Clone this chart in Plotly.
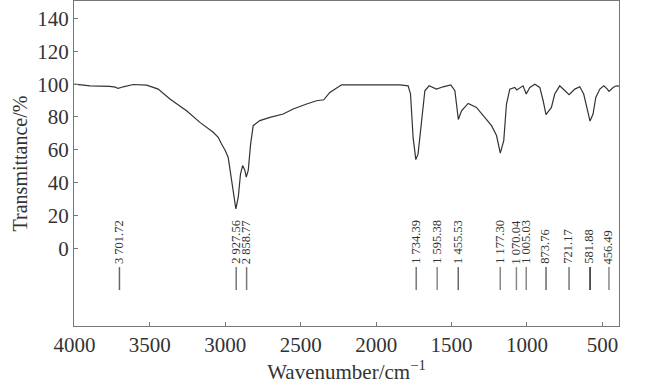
import plotly.graph_objects as go

# Spectrum (wavenumber cm^-1, transmittance %)
wavenumber = [4000, 3897, 3765, 3730, 3710, 3677, 3610, 3521, 3445, 3367, 3257, 3168, 3080,
              3047, 3025, 3003, 2981, 2958, 2936, 2930, 2914, 2899, 2885, 2870, 2861, 2848,
              2832, 2815, 2771, 2704, 2616, 2550, 2461, 2395, 2347, 2307, 2229, 2000, 1841,
              1788, 1772, 1755, 1737, 1722, 1699, 1677, 1649, 1600, 1556, 1505, 1478, 1467,
              1455, 1434, 1390, 1335, 1280, 1235, 1202, 1177, 1154, 1136, 1114, 1081, 1068,
              1048, 1026, 1005, 981, 948, 915, 893, 874, 838, 816, 783, 749, 721, 683, 650,
              624, 595, 582, 562, 544, 517, 491, 467, 456, 429, 407, 390]
transmittance = [100.0, 99.0, 98.6, 98.2, 97.4, 98.4, 99.8, 99.4, 97.0, 91.0, 83.8, 76.7, 70.7,
                 67.6, 63.5, 60.0, 55.5, 41.3, 25.1, 24.0, 31.2, 45.4, 50.4, 47.4, 43.3, 47.4,
                 63.6, 74.7, 77.8, 79.8, 81.8, 84.9, 87.9, 89.9, 90.5, 95.0, 99.6, 99.6, 99.6,
                 99.0, 94.0, 67.6, 54.0, 57.5, 77.8, 96.0, 99.0, 97.0, 98.4, 99.6, 96.0, 85.8,
                 78.5, 83.8, 88.3, 85.8, 79.8, 74.7, 68.7, 58.0, 65.6, 87.9, 97.0, 98.0, 96.5,
                 97.5, 99.0, 94.0, 98.0, 100.0, 98.0, 89.9, 81.5, 85.8, 94.0, 99.0, 96.0, 93.6,
                 97.0, 98.4, 94.0, 83.8, 77.5, 81.8, 91.9, 97.0, 99.0, 97.0, 95.6, 98.0, 99.0, 98.8]

# Peak labels
peak_positions = [3701.72, 2927.56, 2858.77, 1734.39, 1595.38, 1455.53, 1177.30,
                  1070.04, 1005.03, 873.76, 721.17, 581.88, 456.49]
peak_labels = ["3 701.72", "2 927.56", "2 858.77", "1 734.39", "1 595.38", "1 455.53",
               "1 177.30", "1 070.04", "1 005.03", "873.76", "721.17", "581.88", "456.49"]
peak_line_colors = ["#666", "#777", "#777", "#777", "#888", "#666", "#888",
                    "#888", "#888", "#666", "#777", "#222", "#888"]

x_ticks = [4000, 3500, 3000, 2500, 2000, 1500, 1000, 500]
y_ticks = [0, 20, 40, 60, 80, 100, 120, 140]

FONT = "Liberation Serif, Times New Roman, serif"

fig = go.Figure()
fig.add_trace(go.Scatter(x=wavenumber, y=transmittance, mode="lines",
                         line=dict(color="#333333", width=1.2), hoverinfo="skip"))

for pos, lab, col in zip(peak_positions, peak_labels, peak_line_colors):
    fig.add_shape(type="line", xref="x", yref="y", x0=pos, x1=pos, y0=-11.5, y1=-25.5,
                  line=dict(color=col, width=1.5))
    fig.add_annotation(x=pos, y=-10.3, xref="x", yref="y", text=lab, textangle=-90,
                       showarrow=False, xanchor="center", yanchor="bottom",
                       borderpad=0, xshift=-0.5,
                       font=dict(family=FONT, size=12.5, color="#333333"))

fig.update_layout(
    width=651, height=387,
    margin=dict(l=74, r=32, t=1, b=61),
    paper_bgcolor="white", plot_bgcolor="white",
    showlegend=False,
    font=dict(family=FONT, color="#333333"),
)
fig.update_xaxes(
    range=[4003, 390], tickvals=x_ticks, ticktext=[str(v) for v in x_ticks],
    ticks="inside", ticklen=4, tickcolor="#777", showgrid=False, zeroline=False,
    showline=True, linecolor="#777", linewidth=1.2, mirror=True, automargin=False,
    tickfont=dict(family=FONT, size=21, color="#333333"),
    title=dict(text="Wavenumber/cm<sup>−1</sup>", standoff=4,
               font=dict(family=FONT, size=21, color="#333333")),
)
fig.update_yaxes(
    range=[-47.4, 150.7], tickvals=y_ticks, ticktext=[str(v) for v in y_ticks],
    ticks="inside", ticklen=4, tickcolor="#777", showgrid=False, zeroline=False,
    showline=True, linecolor="#777", linewidth=1.2, mirror=True, automargin=False,
    tickfont=dict(family=FONT, size=21, color="#333333"),
    title=dict(text="Transmittance/%", standoff=4,
               font=dict(family=FONT, size=20, color="#333333")),
)

fig.write_html("out.html", config={"displayModeBar": False},
               post_script="document.body.style.margin='0';document.body.style.overflow='hidden';")
